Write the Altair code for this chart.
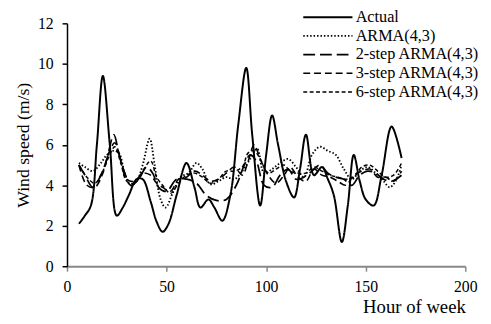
import altair as alt
import pandas as pd

series_names = ["Actual", "ARMA(4,3)", "2-step ARMA(4,3)", "3-step ARMA(4,3)", "6-step ARMA(4,3)"]

actual_x = [6, 9, 12, 15, 18, 21.5, 25, 28, 31, 35, 38, 42, 45, 48, 51, 55, 60, 64, 67, 71, 74, 78, 82, 86, 90, 93, 97, 100, 103, 106, 110, 114, 117, 120, 124, 128, 131, 134, 138, 141, 144, 147, 150, 154, 158, 163, 168]
actual_y = [2.1, 2.5, 3.0, 6.0, 9.4, 6.0, 2.5, 2.9, 3.5, 4.3, 4.3, 3.2, 2.2, 1.7, 2.1, 3.5, 5.1, 3.9, 2.9, 3.3, 2.9, 2.25, 3.5, 7.0, 9.8, 6.5, 3.0, 5.5, 7.45, 6.0, 4.2, 3.4, 4.8, 6.5, 4.5, 4.9, 4.3, 3.5, 1.2, 3.0, 5.5, 4.2, 3.3, 3.0, 4.5, 6.9, 5.35]

arma_x = [6, 9, 13, 17, 20, 23, 26, 29, 32, 35, 38, 41.5, 44, 47, 49.5, 53, 57, 61, 65, 68, 72, 76, 80, 84, 88, 92, 95.5, 99, 103, 107, 111, 115, 119, 123, 127, 131, 135, 139, 143, 147, 151, 155, 159, 162, 165, 168]
arma_y = [5.1, 4.9, 4.7, 5.1, 5.5, 5.7, 5.6, 4.6, 4.0, 4.2, 5.0, 6.3, 5.0, 3.3, 2.9, 3.6, 4.4, 4.6, 5.1, 4.8, 4.05, 4.2, 4.4, 4.3, 4.7, 5.3, 5.8, 4.6, 4.8, 5.1, 5.3, 4.9, 4.4, 5.5, 5.9, 5.7, 5.5, 4.8, 4.3, 4.7, 4.9, 4.6, 4.2, 3.9, 4.2, 5.0]

step2_x = [6, 9, 13, 17, 20, 23.5, 26, 29, 32, 36, 40, 43, 46, 50, 55, 60, 65, 70, 75, 80, 85, 89, 92, 95, 99, 103, 107, 111, 115, 119, 123, 127, 131, 135, 139, 143, 147, 151, 155, 159, 163, 168]
step2_y = [5.0, 4.5, 3.9, 4.5, 5.3, 6.5, 5.6, 4.6, 4.0, 4.3, 4.9, 4.6, 3.9, 3.7, 4.3, 4.3, 4.1, 3.5, 3.25, 3.3, 4.0, 5.0, 5.5, 5.2, 4.0, 3.9, 4.5, 4.8, 4.3, 4.4, 4.7, 5.0, 4.6, 4.4, 4.3, 4.0, 4.5, 4.7, 4.6, 4.3, 4.2, 4.5]

step3_x = [6, 10, 14, 18, 21, 24, 27, 30, 34, 38, 42, 45, 48, 52, 56, 60, 64, 68, 72, 76, 80, 84, 88, 91, 94, 97, 101, 105, 109, 112, 116, 120, 124, 128, 132, 136, 140, 144, 148, 152, 156, 160, 164, 168]
step3_y = [5.0, 4.0, 3.9, 4.6, 5.6, 6.1, 5.2, 4.3, 4.2, 4.6, 4.5, 4.1, 3.9, 3.7, 4.3, 4.4, 4.7, 4.5, 4.2, 4.3, 4.6, 4.9, 4.5, 5.2, 6.0, 5.3, 4.5, 4.1, 4.5, 4.9, 4.4, 4.2, 4.8, 4.5, 4.4, 4.2, 4.0, 4.5, 4.7, 4.8, 4.4, 4.4, 4.2, 4.7]

step6_x = [6, 10, 14, 18, 21, 24, 27, 30, 34, 38, 42, 45, 48, 52, 56, 60, 64, 68, 72, 76, 80, 84, 88, 91, 94, 97, 101, 105, 109, 112, 116, 120, 124, 128, 132, 136, 140, 144, 148, 152, 156, 160, 164, 168]
step6_y = [5.0, 4.4, 4.1, 4.7, 5.4, 5.9, 5.1, 4.2, 4.1, 4.7, 5.2, 4.4, 4.0, 3.6, 4.1, 4.5, 4.6, 4.4, 4.1, 4.3, 4.7, 4.7, 4.9, 5.6, 5.7, 5.3, 4.6, 4.8, 5.0, 4.7, 4.6, 4.6, 4.9, 4.7, 4.5, 4.4, 4.3, 4.4, 4.9, 5.0, 4.7, 4.4, 4.5, 5.1]

xs = [actual_x, arma_x, step2_x, step3_x, step6_x]
ys = [actual_y, arma_y, step2_y, step3_y, step6_y]

rows = []
for name, xv, yv in zip(series_names, xs, ys):
    for i, (a, b) in enumerate(zip(xv, yv)):
        rows.append({"series": name, "hour": a, "speed": b, "order": i})
df = pd.DataFrame(rows)

FONT = "Times New Roman, Liberation Serif, DejaVu Serif, serif"

chart = alt.Chart(df).mark_line(interpolate="catmull-rom", color="black").encode(
    x=alt.X("hour:Q",
            scale=alt.Scale(domain=[0, 200], nice=False),
            axis=alt.Axis(values=[0, 50, 100, 150, 200], title="Hour of week",
                          grid=False, domainColor="#888888", domainWidth=2,
                          tickColor="#888888", tickSize=5, tickWidth=1.5,
                          labelPadding=8, labelFlush=False,
                          titleAnchor="end", titleAlign="right", titleX=405,
                          titleFontSize=19,
                          titleBaseline="alphabetic", titleY=47)),
    y=alt.Y("speed:Q",
            scale=alt.Scale(domain=[0, 12], nice=False),
            axis=alt.Axis(values=[0, 2, 4, 6, 8, 10, 12], title="Wind speed (m/s)",
                          grid=False, domainColor="black", domainWidth=1.5,
                          tickColor="black", tickSize=5, tickWidth=1.5,
                          labelPadding=9, labelFlush=False, titlePadding=5)),
    strokeDash=alt.StrokeDash("series:N",
                              scale=alt.Scale(domain=series_names,
                                              range=[[1, 0], [1.5, 2], [12, 5], [7, 4], [4, 2.5]]),
                              legend=alt.Legend(title=None, orient="none", legendX=232, legendY=-14.5,
                                                symbolType="M0,0H10", symbolSize=100,
                                                symbolStrokeWidth=2, symbolStrokeColor="black",
                                                symbolFillColor="transparent",
                                                labelFontSize=16.5, labelFont=FONT, labelColor="black",
                                                rowPadding=2, labelOffset=45)),
    strokeWidth=alt.StrokeWidth("series:N",
                                scale=alt.Scale(domain=series_names, range=[2, 1.5, 2, 2, 2]),
                                legend=None),
    order="order:Q",
).properties(
    width=405, height=247,
    autosize=alt.AutoSizeParams(type="none"),
    padding={"left": 60, "top": 13, "right": 18, "bottom": 48},
).configure_view(stroke=None).configure_axis(
    labelFont=FONT, titleFont=FONT, labelFontSize=16, labelColor="black",
    titleFontSize=18, titleFontWeight="normal", titleColor="black",
)

chart.save("out.html", embed_options={"renderer": "svg", "actions": False})
